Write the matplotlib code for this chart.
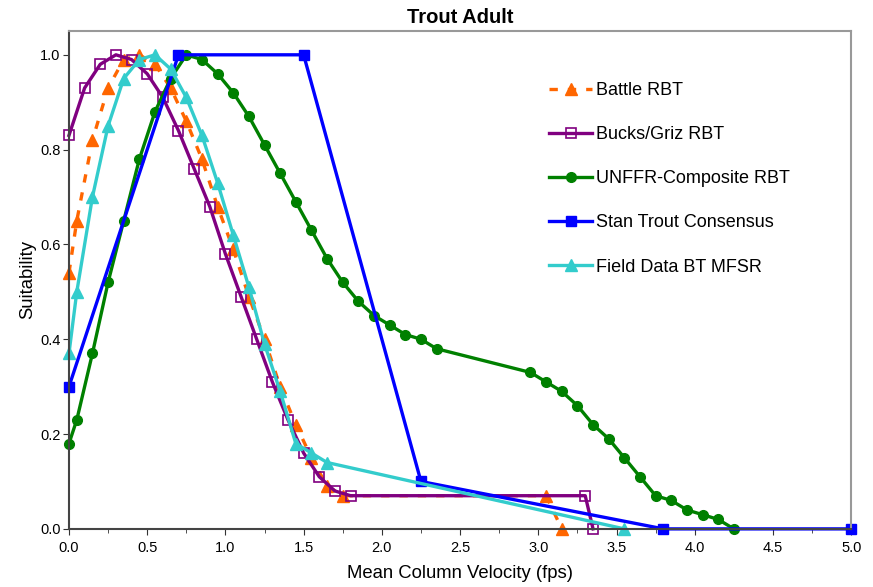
import matplotlib.pyplot as plt
from matplotlib.ticker import MultipleLocator

plt.rcParams['font.family'] = ['Liberation Sans', 'DejaVu Sans']

battle_x = [0, 0.05, 0.15, 0.25, 0.35, 0.45, 0.55, 0.65, 0.75, 0.85, 0.95, 1.05,
            1.15, 1.25, 1.35, 1.45, 1.55, 1.65, 1.75, 3.05, 3.15]
battle_y = [0.54, 0.65, 0.82, 0.93, 0.99, 1.0, 0.98, 0.93, 0.86, 0.78, 0.68, 0.59,
            0.49, 0.40, 0.30, 0.22, 0.15, 0.09, 0.07, 0.07, 0.0]

bucks_x = [0, 0.1, 0.2, 0.3, 0.4, 0.5, 0.6, 0.7, 0.8, 0.9, 1.0, 1.1, 1.2, 1.3,
           1.4, 1.5, 1.6, 1.7, 1.8, 3.3, 3.35]
bucks_y = [0.83, 0.93, 0.98, 1.0, 0.99, 0.96, 0.91, 0.84, 0.76, 0.68, 0.58, 0.49,
           0.40, 0.31, 0.23, 0.16, 0.11, 0.08, 0.07, 0.07, 0.0]

unffr_x = [0, 0.05, 0.15, 0.25, 0.35, 0.45, 0.55, 0.65, 0.75, 0.85, 0.95, 1.05,
           1.15, 1.25, 1.35, 1.45, 1.55, 1.65, 1.75, 1.85, 1.95, 2.05, 2.15, 2.25,
           2.35, 2.95, 3.05, 3.15, 3.25, 3.35, 3.45, 3.55, 3.65, 3.75, 3.85, 3.95,
           4.05, 4.15, 4.25]
unffr_y = [0.18, 0.23, 0.37, 0.52, 0.65, 0.78, 0.88, 0.95, 1.0, 0.99, 0.96, 0.92,
           0.87, 0.81, 0.75, 0.69, 0.63, 0.57, 0.52, 0.48, 0.45, 0.43, 0.41, 0.40,
           0.38, 0.33, 0.31, 0.29, 0.26, 0.22, 0.19, 0.15, 0.11, 0.07, 0.06, 0.04,
           0.03, 0.02, 0.0]

stan_x = [0, 0.7, 1.5, 2.25, 3.8, 5.0]
stan_y = [0.30, 1.0, 1.0, 0.10, 0.0, 0.0]

field_x = [0, 0.05, 0.15, 0.25, 0.35, 0.45, 0.55, 0.65, 0.75, 0.85, 0.95, 1.05,
           1.15, 1.25, 1.35, 1.45, 1.55, 1.65, 3.55]
field_y = [0.37, 0.50, 0.70, 0.85, 0.95, 0.99, 1.0, 0.97, 0.91, 0.83, 0.73, 0.62,
           0.51, 0.39, 0.29, 0.18, 0.16, 0.14, 0.0]

fig = plt.figure(figsize=(8.73, 5.87), dpi=100)
ax = fig.add_axes([0.079, 0.099, 0.896, 0.848])

lw = 2.4
ax.plot(battle_x, battle_y, color='#FF6600', linestyle=(0, (2.5, 3)), linewidth=lw,
        marker='^', markersize=8, label='Battle RBT', clip_on=False)
ax.plot(bucks_x, bucks_y, color='#800080', linewidth=lw, marker='s', markersize=7,
        markerfacecolor='none', markeredgewidth=1.2, label='Bucks/Griz RBT', clip_on=False)
ax.plot(unffr_x, unffr_y, color='#008000', linewidth=lw, marker='o', markersize=7,
        label='UNFFR-Composite RBT', clip_on=False)
ax.plot(stan_x, stan_y, color='#0000FF', linewidth=lw, marker='s', markersize=7,
        label='Stan Trout Consensus', clip_on=False)
ax.plot(field_x, field_y, color='#33CCCC', linewidth=lw, marker='^', markersize=8,
        label='Field Data BT MFSR', clip_on=False)

ax.set_xlim(0, 5)
ax.set_ylim(0, 1.05)
ax.xaxis.set_major_locator(MultipleLocator(0.5))
ax.xaxis.set_minor_locator(MultipleLocator(0.25))
ax.yaxis.set_major_locator(MultipleLocator(0.2))
ax.xaxis.set_major_formatter('{x:.1f}')
ax.yaxis.set_major_formatter('{x:.1f}')
ax.tick_params(which='both', direction='out', labelsize=10.5, color='#333333')
ax.tick_params(which='major', length=4)
ax.tick_params(axis='x', which='major', pad=5)
ax.tick_params(axis='y', which='major', pad=2)
ax.tick_params(which='minor', length=3)

for side in ['top', 'right']:
    ax.spines[side].set_color('#999999')
    ax.spines[side].set_linewidth(1.5)
for side in ['left', 'bottom']:
    ax.spines[side].set_color('#444444')
    ax.spines[side].set_linewidth(1.5)

ax.set_title('Trout Adult', fontsize=14.5, fontweight='bold', pad=6)
ax.set_xlabel('Mean Column Velocity (fps)', fontsize=13.3, labelpad=7)
ax.set_ylabel('Suitability', fontsize=13.3, labelpad=3)

ax.legend(loc='upper left', bbox_to_anchor=(0.593, 0.93), frameon=False, fontsize=13,
          labelspacing=1.5, handlelength=2.4, handletextpad=0.2)

fig.savefig('out.png', dpi=100)
